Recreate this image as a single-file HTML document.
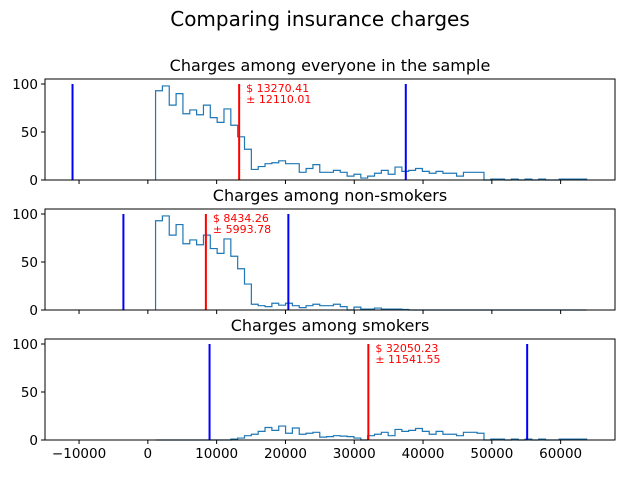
<!DOCTYPE html>
<html><head><meta charset="utf-8"><style>
body{margin:0;background:#fff}
svg{display:block;font-family:"DejaVu Sans","Liberation Sans",sans-serif}
</style></head><body>
<svg id="c" width="640" height="480" viewBox="0 0 640 480">
<text x="320" y="26" font-size="20" text-anchor="middle">Comparing insurance charges</text>
</svg>
<script>
const binStart = 1121, binEnd = 63770, binCount = 63;
const titles = ["Charges among everyone in the sample","Charges among non-smokers","Charges among smokers"];
const means = [13270.41, 8434.26, 32050.23];
const stds = [12110.01, 5993.78, 11541.55];
const countsAll = [93,98,78,90,69,73,68,78,65,60,74,57,45,32,11,14,17,18,20,17,17,8,12,16,8,8,10,8,4,6,2,4,7,10,6,13.5,9,10,12,9,7,9,7,7,4,8,8,8,0,1,1,0,1,0,1,0,1,0,0,1,1,1,1];
const countsNon = [93,98,78,89,69,73,68,78,64,59,74,56,43,27,6,4.5,3.5,7,5,7,4.5,2.5,4.5,6,4.5,4.5,6,3.5,0,3,1,1,2,1,1,1,0.5,0,0,0,0,0,0,0,0,0,0,0,0,0,0,0,0,0,0,0,0,0,0,0,0,0,0];
const countsSmk = [0,0,0,0,0,0,0,0,0,0,0,1,2,4.5,6,9,13,10,14.5,7,12.5,6,7,8,3,3.5,4.5,4,3.5,2,0,4.5,6,8,4.5,11,9,10,12,9,6,9,6,6,4.5,8,8,7,0,1,1,0,1,0,1,0,1,0,0,1,1,1,1];
const xTicks = [-10000,0,10000,20000,30000,40000,50000,60000];
const yTicks = [0,50,100];
const series = [countsAll, countsNon, countsSmk];

const svg = document.getElementById('c');
const NS = "http://www.w3.org/2000/svg";
const L = 45, R = 615, xMin = -14950, xMax = 67900, yMax = 105.2;
const tops = [79, 209, 339], H = 101;
const sx = v => L + (v - xMin) / (xMax - xMin) * (R - L);
function mk(tag, attrs, parent){const e=document.createElementNS(NS,tag);for(const k in attrs)e.setAttribute(k,attrs[k]);(parent||svg).appendChild(e);return e;}

for (let p = 0; p < 3; p++) {
  const top = tops[p], bot = top + H;
  const sy = v => bot - v / yMax * H;
  const g = mk('g', {});
  
  
  const t = mk('text', {x: (L+R)/2, y: top - 8, 'font-size': 16, 'text-anchor': 'middle'}, g);
  t.textContent = titles[p];
  
  
  const counts = series[p], w = (binEnd - binStart) / binCount;
  let d = 'M' + sx(binStart) + ',' + sy(0);
  for (let i = 0; i < counts.length; i++) {
    d += ' L' + sx(binStart + i*w) + ',' + sy(counts[i]) + ' L' + sx(binStart + (i+1)*w) + ',' + sy(counts[i]);
  }
  d += ' L' + sx(binEnd) + ',' + sy(0);
  const h = mk('path', {d: d, fill: 'none', stroke: '#1f77b4', 'stroke-width': 1.2}, g);
  
  
  const m = means[p], s = stds[p];
  [[m - 2*s, 'blue'], [m + 2*s, 'blue'], [m, 'red']].forEach((ln, k) => {
    const l = mk('line', {x1: sx(ln[0]), x2: sx(ln[0]), y1: sy(0), y2: sy(100), stroke: ln[1], 'stroke-width': 2}, g);
    
    
  });
  const a = mk('text', {x: sx(m) + 7, y: sy(100) + 8, 'font-size': 11, fill: 'red'}, g);
  
  
  const t1 = mk('tspan', {x: sx(m) + 7}, a); t1.textContent = '$ ' + m.toFixed(2);
  const t2 = mk('tspan', {x: sx(m) + 7, dy: 11}, a); t2.textContent = '± ' + s.toFixed(2);
  const f = mk('rect', {x: L, y: top, width: R - L, height: H, fill: 'none', stroke: '#000', 'stroke-width': 1}, g);
  
  
  yTicks.forEach(v => {
    mk('line', {x1: L - 4, x2: L, y1: sy(v), y2: sy(v), stroke: '#000'}, g);
    const yt = mk('text', {x: L - 7, y: sy(v) + 5, 'font-size': 13.5, 'text-anchor': 'end'}, g);
    yt.textContent = v;
    
    
  });
  xTicks.forEach(v => {
    mk('line', {x1: sx(v), x2: sx(v), y1: bot, y2: bot + 4, stroke: '#000'}, g);
    if (p === 2) {
      const xt = mk('text', {x: sx(v), y: bot + 18, 'font-size': 13.5, 'text-anchor': 'middle'}, g);
      xt.textContent = v < 0 ? '\u2212' + Math.abs(v) : v;
      
      
    }
  });
}
</script>
</body></html>
